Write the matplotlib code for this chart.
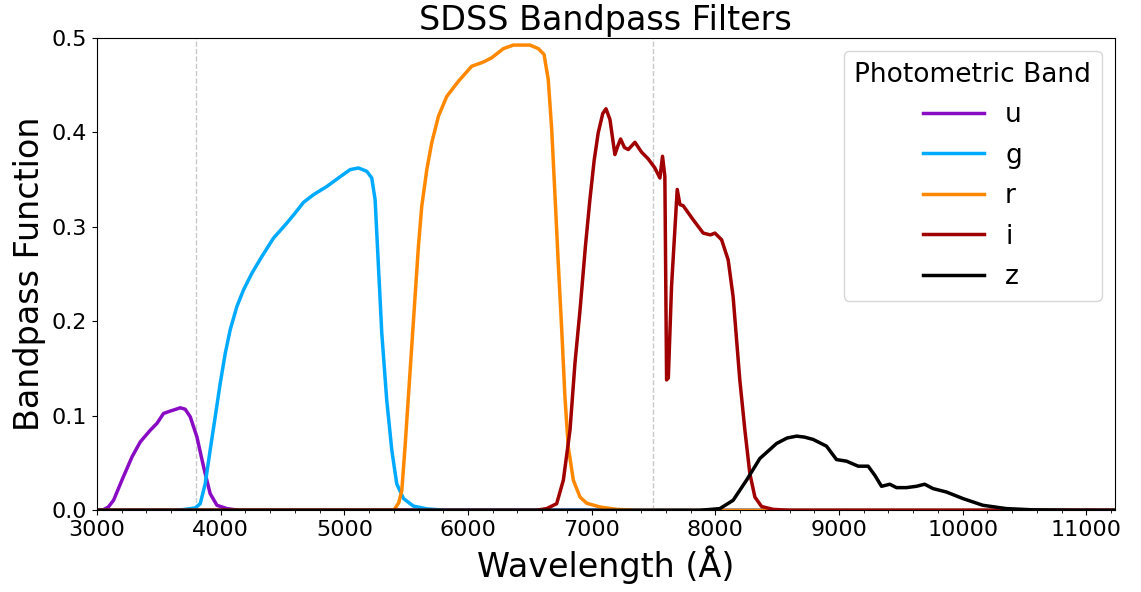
import matplotlib.pyplot as plt

# SDSS filter responses
u_wave = [3000, 3050, 3092, 3134, 3202, 3283, 3350, 3431, 3485, 3538, 3592, 3640,
          3673, 3713, 3754, 3808, 3862, 3915, 3970, 4050, 4150, 11230]
u_resp = [0.0, 0.0005, 0.0035, 0.0106, 0.032, 0.0565, 0.0724, 0.0848, 0.092, 0.1025,
          0.105, 0.107, 0.1085, 0.107, 0.099, 0.0777, 0.046, 0.0177, 0.0053, 0.0018,
          0.0, 0.0]

g_wave = [3000, 3600, 3700, 3794, 3835, 3875, 3915, 3956, 3996, 4037, 4077, 4131,
          4185, 4253, 4333, 4427, 4535, 4602, 4670, 4750, 4859, 4952, 5047, 5114,
          5182, 5222, 5249, 5276, 5303, 5343, 5384, 5424, 5478, 5558, 5667, 5828, 11230]
g_resp = [0.0, 0.0, 0.0008, 0.0025, 0.007, 0.028, 0.0636, 0.099, 0.134, 0.166, 0.191,
          0.2156, 0.2333, 0.251, 0.2686, 0.288, 0.304, 0.3146, 0.3259, 0.334, 0.3428,
          0.3517, 0.3606, 0.3623, 0.3588, 0.3517, 0.3287, 0.258, 0.1874, 0.1166, 0.0636,
          0.028, 0.0125, 0.0045, 0.0015, 0.0, 0.0]

r_wave = [3000, 5380, 5405, 5440, 5465, 5491, 5518, 5545, 5572, 5599, 5626, 5667,
          5707, 5761, 5828, 5922, 6030, 6124, 6192, 6286, 6367, 6501, 6569, 6615,
          6649, 6677, 6704, 6730, 6758, 6784, 6811, 6852, 6906, 6960, 7068, 7202,
          7350, 11230]
r_resp = [0.0, 0.0, 0.001, 0.008, 0.0212, 0.067, 0.12, 0.173, 0.226, 0.279, 0.3216,
          0.3606, 0.389, 0.417, 0.438, 0.454, 0.47, 0.4744, 0.479, 0.4886, 0.4924,
          0.4924, 0.4886, 0.4825, 0.456, 0.403, 0.332, 0.2616, 0.191, 0.12, 0.067,
          0.0318, 0.014, 0.0075, 0.0035, 0.001, 0.0, 0.0]

i_wave = [3000, 6550, 6636, 6717, 6771, 6825, 6865, 6906, 6950, 6986, 7020, 7053,
          7090, 7116, 7148, 7188, 7210, 7234, 7265, 7296, 7350, 7404, 7457, 7511,
          7552, 7573, 7592, 7606, 7620, 7646, 7692, 7714, 7740, 7821, 7902, 7960,
          7997, 8051, 8104, 8144, 8198, 8239, 8279, 8320, 8374, 8468, 8600, 11230]
i_resp = [0.0, 0.0, 0.0018, 0.007, 0.0318, 0.085, 0.1556, 0.212, 0.28, 0.329, 0.37,
          0.3995, 0.42, 0.425, 0.4136, 0.3765, 0.385, 0.393, 0.384, 0.3818, 0.3895,
          0.379, 0.372, 0.3624, 0.3517, 0.3747, 0.3535, 0.138, 0.14, 0.237, 0.3396,
          0.3235, 0.3224, 0.3075, 0.2934, 0.2915, 0.2934, 0.2863, 0.265, 0.226, 0.138,
          0.085, 0.039, 0.014, 0.004, 0.001, 0.0, 0.0]

z_wave = [3000, 7875, 8037, 8144, 8252, 8360, 8495, 8580, 8657, 8720, 8791, 8899,
          8980, 9061, 9155, 9236, 9290, 9344, 9411, 9465, 9545, 9626, 9693, 9760,
          9868, 10003, 10164, 10354, 10570, 10900, 11230]
z_resp = [0.0, 0.0, 0.0018, 0.0106, 0.0318, 0.0548, 0.0707, 0.0765, 0.0785, 0.0775,
          0.075, 0.0679, 0.0537, 0.052, 0.0467, 0.0467, 0.037, 0.0254, 0.0276, 0.024,
          0.024, 0.0254, 0.0276, 0.023, 0.0194, 0.0124, 0.0053, 0.0018, 0.0005,
          0.0001, 0.0]

bands = ['u', 'g', 'r', 'i', 'z']
colors = ['#8A0BC4', '#00AAFF', '#FF8800', '#A00000', '#000000']
waves = [u_wave, g_wave, r_wave, i_wave, z_wave]
resps = [u_resp, g_resp, r_resp, i_resp, z_resp]
marker_lines = [3800, 7500]

fig, ax = plt.subplots(figsize=(11.41, 5.92), dpi=100)
fig.subplots_adjust(left=0.085, right=0.977, top=0.936, bottom=0.138)

for xv in marker_lines:
    ax.axvline(xv, color='#c8c8c8', linestyle='--', linewidth=1)

for band, col, w, r in zip(bands, colors, waves, resps):
    ax.plot(w, r, color=col, linewidth=2.5, label=band)

ax.set_xlim(3000, 11230)
ax.set_ylim(0, 0.5)
ax.set_xticks(range(3000, 11001, 1000))
ax.set_xticks(range(3000, 11231, 200), minor=True)
ax.tick_params(axis='both', which='major', labelsize=16)
ax.set_xlabel('Wavelength (Å)', fontsize=24)
ax.set_ylabel('Bandpass Function', fontsize=24)
ax.set_title('SDSS Bandpass Filters', fontsize=24)

leg = ax.legend(title='Photometric Band', fontsize=19, title_fontsize=19,
                loc='upper right', handlelength=2.3, labelspacing=0.55)

plt.savefig('out.png', dpi=100)
